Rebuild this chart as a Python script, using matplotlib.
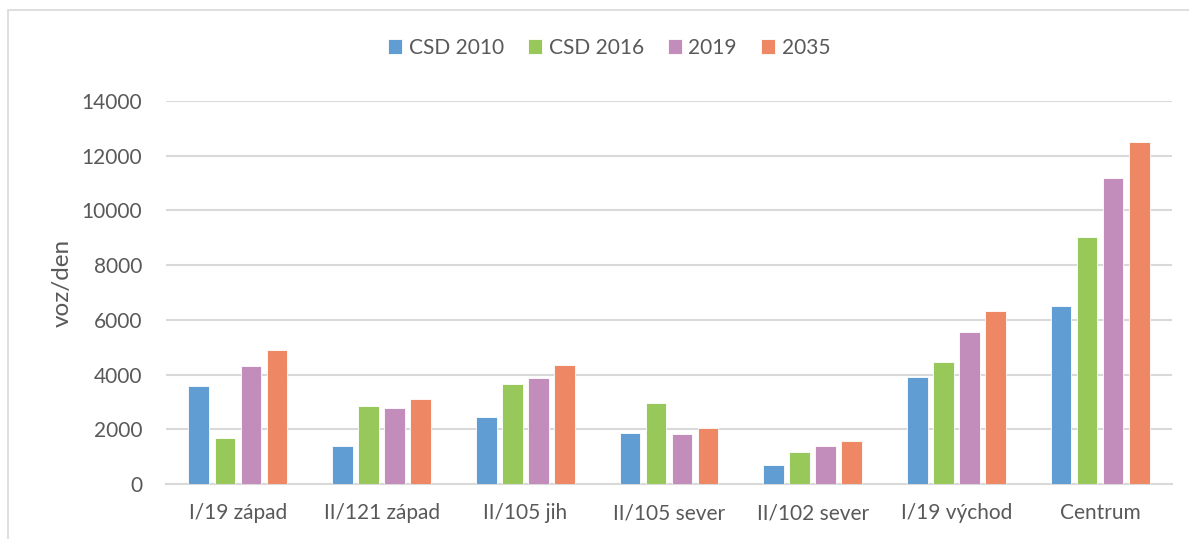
import matplotlib.pyplot as plt
import numpy as np
from matplotlib.patches import Rectangle

categories = ["I/19 západ", "II/121 západ", "II/105 jih", "II/105 sever",
              "II/102 sever", "I/19 východ", "Centrum"]
series_names = ["CSD 2010", "CSD 2016", "2019", "2035"]
csd_2010 = [3590, 1380, 2450, 1860, 680, 3920, 6520]
csd_2016 = [1670, 2840, 3670, 2950, 1160, 4460, 9040]
y2019 = [4300, 2770, 3880, 1810, 1400, 5560, 11170]
y2035 = [4900, 3110, 4350, 2030, 1580, 6340, 12490]
yticks = [0, 2000, 4000, 6000, 8000, 10000, 12000, 14000]

colors = ["#5f9dd3", "#98c85a", "#c28cbb", "#ee8763"]
text_gray = "#595959"
grid_gray = "#d9d9d9"

plt.rcParams['font.family'] = ['Lato', 'DejaVu Sans']

fig = plt.figure(figsize=(11.89, 5.39), dpi=100)
ax = fig.add_axes([166 / 1189, 1 - 484 / 539, 1006 / 1189, 383 / 539])

# outer chart border
fig.add_artist(Rectangle((8 / 1189, -0.01), 1.2, 1 - 10 / 539 + 0.01,
                         transform=fig.transFigure, fill=False,
                         edgecolor=grid_gray, linewidth=1.2))

x = np.arange(len(categories))
pitch = 0.181
width = 0.144
all_series = [csd_2010, csd_2016, y2019, y2035]
for i, (name, vals) in enumerate(zip(series_names, all_series)):
    ax.bar(x + (i - 1.5) * pitch, vals, width, color=colors[i], label=name,
           edgecolor="white", linewidth=0.6, zorder=3)

ax.set_xlim(-0.5, len(categories) - 0.5)
ax.set_ylim(0, 14000)
ax.set_yticks(yticks)
ax.set_yticklabels([str(v) for v in yticks])
ax.set_xticks(x)
ax.set_xticklabels(categories)
ax.tick_params(axis='both', length=0, labelsize=15, colors=text_gray)
ax.tick_params(axis='y', pad=17)
ax.tick_params(axis='x', pad=14)
ax.grid(axis='y', color=grid_gray, linewidth=1.5, zorder=0)
for s in ['top', 'right', 'left']:
    ax.spines[s].set_visible(False)
ax.spines['bottom'].set_color(grid_gray)
ax.spines['bottom'].set_linewidth(1.5)
ax.set_ylabel("voz/den", fontsize=17.5, color=text_gray, va='center')
ax.yaxis.set_label_coords(-0.103, 0.525)

fig.legend(loc='center', bbox_to_anchor=(609 / 1189, 1 - 48 / 539), ncol=4,
           frameon=False, fontsize=15, labelcolor=text_gray,
           handlelength=0.7, handleheight=0.7, handletextpad=0.3,
           columnspacing=1.15)

fig.savefig("out.png", dpi=100, facecolor="white")
